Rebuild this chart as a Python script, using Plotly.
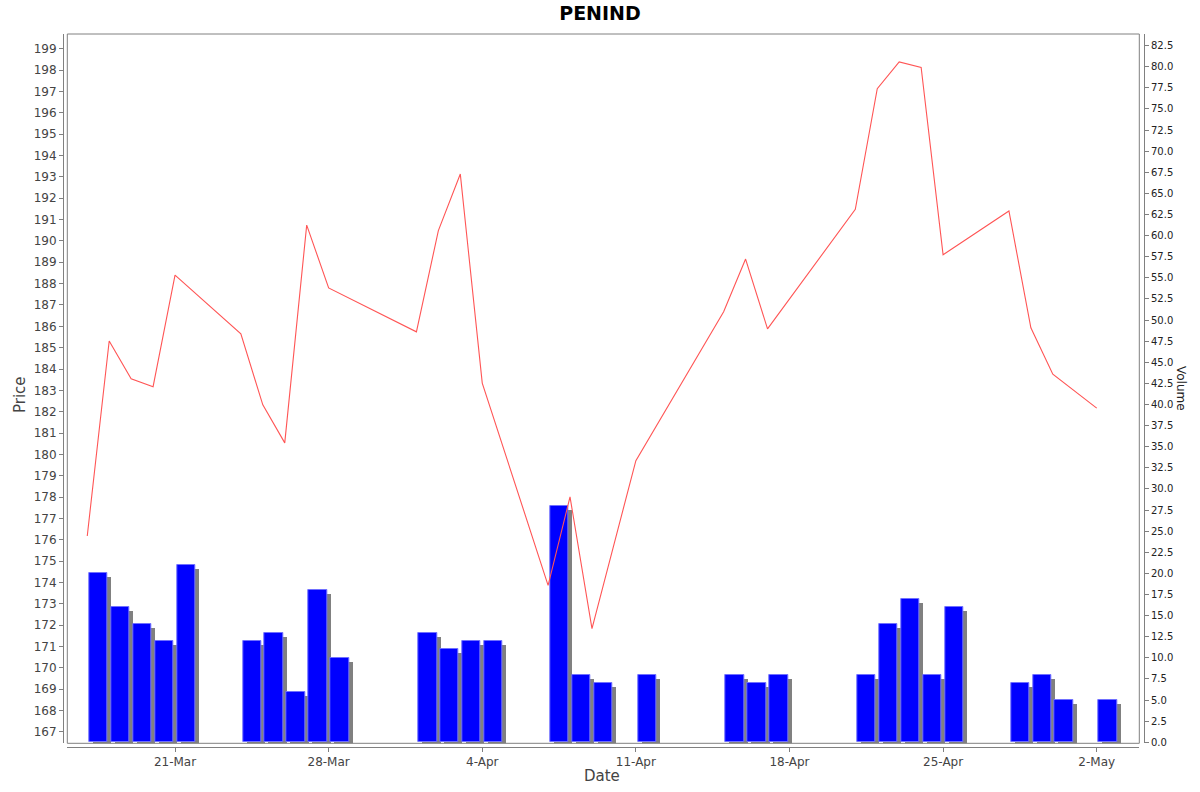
import plotly.graph_objects as go

# ---- data ----
dates = ['2025-03-17', '2025-03-18', '2025-03-19', '2025-03-20', '2025-03-21',
         '2025-03-24', '2025-03-25', '2025-03-26', '2025-03-27', '2025-03-28',
         '2025-04-01', '2025-04-02', '2025-04-03', '2025-04-04',
         '2025-04-07', '2025-04-08', '2025-04-09', '2025-04-11',
         '2025-04-15', '2025-04-16', '2025-04-17',
         '2025-04-21', '2025-04-22', '2025-04-23', '2025-04-24', '2025-04-25',
         '2025-04-28', '2025-04-29', '2025-04-30', '2025-05-02']
price = [176.18, 185.31, 183.54, 183.17, 188.40,
         185.65, 182.32, 180.54, 190.74, 187.80,
         185.74, 190.48, 193.13, 183.34,
         173.87, 178.01, 171.84, 179.71,
         186.68, 189.15, 185.88,
         191.48, 197.13, 198.38, 198.12, 189.35,
         191.40, 185.93, 183.76, 182.17]
volume = [20, 16, 14, 12, 21,
          12, 13, 6, 18, 10,
          13, 11, 12, 12,
          28, 8, 7, 8,
          8, 7, 8,
          8, 14, 17, 8, 16,
          7, 8, 5, 5]
tick_dates = ['2025-03-21', '2025-03-28', '2025-04-04', '2025-04-11',
              '2025-04-18', '2025-04-25', '2025-05-02']
tick_labels = ['21-Mar', '28-Mar', '4-Apr', '11-Apr', '18-Apr', '25-Apr', '2-May']

# ---- geometry / style ----
W, H = 1200, 792
ML, MR, MT, MB = 63, 56, 34, 45
PW, PH = W - ML - MR, H - MT - MB
DAY = 86400000
px_per_day = 21.945
bar_off = 0.09 * DAY
bar_w = 0.84 * DAY
shadow_dx = (4 / px_per_day) * DAY
vol_range = [-0.118, 83.88]
vol_px_per_unit = 709 / (vol_range[1] - vol_range[0])
shadow_dy = 4 / vol_px_per_unit

FONT = 'DejaVu Sans'
AX = '#808080'

fig = go.Figure()

fig.add_trace(go.Bar(
    x=dates, y=volume, base=-shadow_dy, offset=bar_off + shadow_dx, width=bar_w,
    marker=dict(color='#808080', line=dict(width=0)),
    xaxis='x', yaxis='y', showlegend=False, hoverinfo='skip'))
fig.add_trace(go.Bar(
    x=dates, y=volume, offset=bar_off, width=bar_w,
    marker=dict(color='#0000ff', line=dict(width=1, color='#7070ff')),
    xaxis='x', yaxis='y', name='Volume', showlegend=False))
fig.add_trace(go.Scatter(
    x=dates, y=price, mode='lines', line=dict(color='#ff5555', width=1.1),
    xaxis='x', yaxis='y2', name='Price', showlegend=False))

fig.update_layout(
    width=W, height=H,
    margin=dict(l=ML, r=MR, t=MT, b=MB, pad=0),
    paper_bgcolor='white', plot_bgcolor='white',
    barmode='overlay', bargap=0,
    font=dict(family=FONT, color='#444444'),
    title=dict(text='<b>PENIND</b>', x=0.5, xanchor='center', y=1 - 13 / H,
               yanchor='middle', font=dict(family=FONT, size=19, color='black')),
    xaxis=dict(
        type='date',
        domain=[(67.3 - ML) / PW, (1139.3 - ML) / PW],
        range=['2025-03-16 02:11', '2025-05-03 22:35'],
        anchor='free', position=0,
        showgrid=False, zeroline=False,
        showline=True, linecolor=AX, linewidth=1,
        ticks='outside', ticklen=4, tickcolor=AX,
        tickvals=tick_dates, ticktext=tick_labels,
        tickfont=dict(family=FONT, size=12, color='#444444')),
    yaxis=dict(
        domain=[(H - MB - 743.3) / PH, 1],
        range=vol_range,
        side='right', anchor='free', position=1,
        showgrid=False, zeroline=False,
        showline=True, linecolor=AX, linewidth=1,
        ticks='outside', ticklen=4, tickcolor=AX,
        tick0=0, dtick=2.5, tickformat='.1f',
        tickfont=dict(family=FONT, size=10, color='#222222')),
    yaxis2=dict(
        overlaying='y',
        range=[166.47, 199.69],
        side='left', anchor='free', position=0,
        showgrid=False, zeroline=False,
        showline=True, linecolor=AX, linewidth=1,
        ticks='outside', ticklen=4, tickcolor=AX,
        tick0=167, dtick=1,
        tickfont=dict(family=FONT, size=12, color='#444444')),
    shapes=[dict(type='rect', xref='x domain', yref='y domain',
                 x0=0, x1=1, y0=0, y1=1, line=dict(color=AX, width=1),
                 fillcolor='rgba(0,0,0,0)', layer='above')],
    annotations=[
        dict(text='Price', xref='paper', yref='paper',
             x=(20 - ML) / PW, y=(H - MB - 395) / PH, showarrow=False,
             textangle=-90, xanchor='center', yanchor='middle',
             font=dict(family=FONT, size=15, color='#444444')),
        dict(text='Date', xref='paper', yref='paper',
             x=(602 - ML) / PW, y=(H - MB - 776) / PH, showarrow=False,
             xanchor='center', yanchor='middle',
             font=dict(family=FONT, size=15, color='#444444')),
        dict(text='Volume', xref='paper', yref='paper',
             x=(1181 - ML) / PW, y=(H - MB - 388) / PH, showarrow=False,
             textangle=90, xanchor='center', yanchor='middle',
             font=dict(family=FONT, size=12, color='#222222')),
    ],
)

fig.write_html('out.html',
               config={'displayModeBar': False},
               post_script="document.body.style.margin='0px';"
                           "document.body.style.overflow='hidden';")
